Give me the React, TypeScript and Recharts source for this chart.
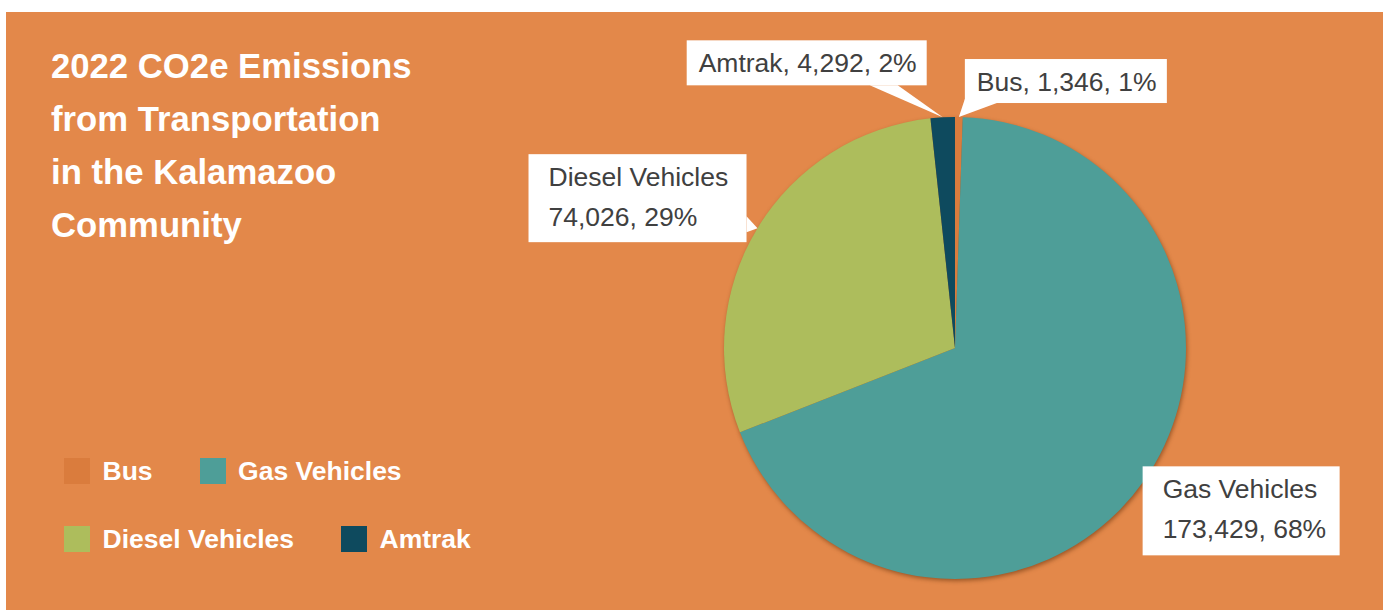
import { PieChart, Pie, Cell, Legend } from 'recharts';

// 2022 CO2e emissions from transportation, Kalamazoo community (metric tons)
const CATEGORIES = ['Bus', 'Gas Vehicles', 'Diesel Vehicles', 'Amtrak'];
const EMISSIONS = [1346, 173429, 74026, 4292];
const PERCENT_LABELS = ['1%', '68%', '29%', '2%'];
const TITLE_LINES = ['2022 CO2e Emissions', 'from Transportation', 'in the Kalamazoo', 'Community'];
const LEGEND_ROWS = [
  [0, 1],
  [2, 3],
];

const SLICE_COLORS = ['#DA7C3D', '#4E9E98', '#ADBD5C', '#0E4A5E'];
const BG = '#E3884A';
const FONT = '"Liberation Sans", Arial, Helvetica, sans-serif';

const W = 1377;
const H = 598;
const RAD = Math.PI / 180;

interface LabelBox {
  dx: number; // box offset from the slice's outer-edge anchor
  dy: number;
  w: number;
  h: number;
  padX: number;
  twoLines: boolean;
  callout?: [number, number][];
}

// callout boxes, placed relative to the point on the slice edge
const LABEL_BOXES: LabelBox[] = [
  { dx: 6, dy: -58, w: 202, h: 44, padX: 12, twoLines: false, callout: [[0, 40], [32, 44]] },
  { dx: -1, dy: -15, w: 197, h: 89, padX: 20, twoLines: true },
  { dx: -229, dy: -74, w: 218, h: 88, padX: 20, twoLines: true, callout: [[218, 62], [218, 78]] },
  { dx: -256, dy: -77, w: 240, h: 45, padX: 12, twoLines: false, callout: [[183, 45], [211, 45]] },
];

const data = CATEGORIES.map((name, i) => ({ name, value: EMISSIONS[i] }));

function SliceLabel(props: any) {
  const { cx, cy, midAngle, outerRadius, index } = props;
  const box = LABEL_BOXES[index];
  if (!box) return null;
  const ax = cx + outerRadius * Math.cos(-midAngle * RAD);
  const ay = cy + outerRadius * Math.sin(-midAngle * RAD);
  const bx = ax + box.dx;
  const by = ay + box.dy;
  const name = CATEGORIES[index];
  const amount = EMISSIONS[index].toLocaleString('en-US');
  const pct = PERCENT_LABELS[index];
  const textProps = {
    x: bx + box.padX,
    fill: '#404040',
    fontFamily: FONT,
    fontSize: 26.5,
  };
  return (
    <g>
      {box.callout && (
        <polygon
          points={`${bx + box.callout[0][0]},${by + box.callout[0][1]} ${bx + box.callout[1][0]},${by + box.callout[1][1]} ${ax},${ay}`}
          fill="#fff"
        />
      )}
      <rect x={bx} y={by} width={box.w} height={box.h} fill="#fff" />
      {box.twoLines ? (
        <>
          <text {...textProps} y={by + 32}>{name}</text>
          <text {...textProps} y={by + 72}>{`${amount}, ${pct}`}</text>
        </>
      ) : (
        <text {...textProps} y={by + 32}>{`${name}, ${amount}, ${pct}`}</text>
      )}
    </g>
  );
}

function ChartLegend() {
  return (
    <div style={{ fontFamily: FONT }}>
      {LEGEND_ROWS.map((row, r) => (
        <div
          key={r}
          style={{ display: 'flex', alignItems: 'center', gap: 47, height: 26, marginBottom: 42 }}
        >
          {row.map((i) => (
            <div key={i} style={{ display: 'flex', alignItems: 'center' }}>
              <span style={{ width: 26, height: 26, background: SLICE_COLORS[i], display: 'inline-block' }} />
              <span style={{ marginLeft: 12.5, color: '#fff', fontWeight: 700, fontSize: 26.5, lineHeight: '26px' }}>
                {CATEGORIES[i]}
              </span>
            </div>
          ))}
        </div>
      ))}
    </div>
  );
}

export default function App() {
  return (
    <div style={{ position: 'absolute', left: 6, top: 12, width: W, height: H, background: BG }}>
      <style>{'.pie-shadow path { filter: blur(2px); }'}</style>
      <div
        style={{
          position: 'absolute',
          left: 45,
          top: 27.5,
          color: '#fff',
          fontFamily: FONT,
          fontWeight: 700,
          fontSize: 34.7,
          lineHeight: '53px',
          whiteSpace: 'nowrap',
          zIndex: 2,
        }}
      >
        {TITLE_LINES.map((line) => (
          <div key={line}>{line}</div>
        ))}
      </div>
      <PieChart width={W} height={H} margin={{ top: 0, right: 0, bottom: 0, left: 0 }}>
        {/* soft shadow behind the pie */}
        <Pie
          data={data}
          dataKey="value"
          nameKey="name"
          cx={950}
          cy={338}
          outerRadius={231}
          startAngle={90}
          endAngle={-270}
          stroke="none"
          className="pie-shadow"
          legendType="none"
          label={false}
          labelLine={false}
          isAnimationActive={false}
        >
          {data.map((d) => (
            <Cell key={`s-${d.name}`} fill="rgba(95,45,10,0.55)" />
          ))}
        </Pie>
        <Pie
          data={data}
          dataKey="value"
          nameKey="name"
          cx={949}
          cy={336}
          outerRadius={231}
          startAngle={90}
          endAngle={-270}
          stroke="none"
          label={SliceLabel}
          labelLine={false}
          isAnimationActive={false}
        >
          {data.map((d, i) => (
            <Cell key={`c-${d.name}`} fill={SLICE_COLORS[i]} />
          ))}
        </Pie>
        <Legend
          content={() => <ChartLegend />}
          wrapperStyle={{ left: 58, top: 446, bottom: 'auto', width: 520, height: 'auto' }}
        />
      </PieChart>
    </div>
  );
}
